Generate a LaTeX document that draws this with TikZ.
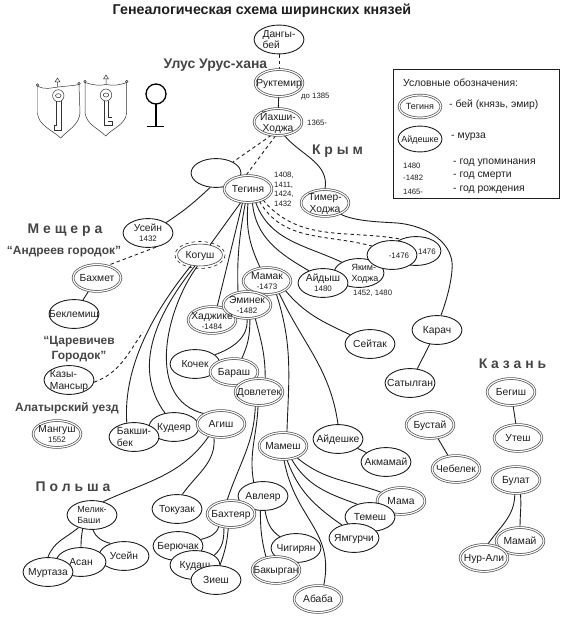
\documentclass[tikz,border=0pt]{standalone}
\usepackage{fontspec}
\setmainfont{Liberation Sans}
\usetikzlibrary{backgrounds, shapes.geometric}
\definecolor{inkgray}{HTML}{1E1E1E}
\definecolor{regiongray}{HTML}{454545}
\newcommand{\nm}[2][c]{\raisebox{-.35em}[0pt][0pt]{\makebox[0pt]{\begin{tabular}{@{}#1@{}}#2\end{tabular}}}}
\newcommand{\yr}[1]{{\fontsize{8}{9}\selectfont #1}}
\newcommand{\nmy}[2]{\nm{#1\\[-1.5pt]\yr{#2}}}

\begin{document}
\begin{tikzpicture}[
    x=1bp, y=-1bp,
    font=\fontsize{10.3}{11.8}\selectfont, text=inkgray,
    murza/.style={ellipse, draw=inkgray, line width=.9pt, fill=white,
                  minimum width=50, minimum height=29, inner sep=0pt},
    bey/.style={ellipse, draw=black!65, double=white, double distance=1.1pt, line width=.75pt,
                fill=white, minimum width=48, minimum height=27, inner sep=0pt},
    link/.style={line width=.9pt, draw=inkgray},
    dlink/.style={link, dash pattern=on 3.5pt off 3pt},
    region/.style={font=\bfseries\fontsize{14}{15}\selectfont, text=regiongray, align=center, inner sep=0pt},
    subregion/.style={region, font=\bfseries\fontsize{12}{15}\selectfont},
    yearlabel/.style={font=\fontsize{7.8}{9.6}\selectfont, anchor=west, align=left, inner sep=0pt},
    keytext/.style={font=\fontsize{10.4}{12}\selectfont, anchor=west, inner sep=0pt},
    sign/.style={line width=.5pt, draw=black!80}
  ]
    \useasboundingbox (0,0) rectangle (567,624);

    \node[font=\bfseries\fontsize{14.3}{17}\selectfont, inner sep=0pt] (title) at (262,10.5) {Генеалогическая схема ширинских князей};
    \node[region] (urus)   at (215.5,65) {Улус Урус-хана};
    \node[region] (krym)   at (337.5,151) {К р ы м};
    \node[region] (mesh)   at (65,230) {М е щ е р а};
    \node[subregion] (andr)  at (64,252) {“Андреев городок”};
    \node[subregion] (tsar)  at (79,349) {“Царевичев\\Городок”};
    \node[subregion] (alat)  at (67,408) {Алатырский уезд};
    \node[region] (polsha) at (73,487) {П о л ь ш а};
    \node[region] (kazan)  at (512.5,364) {К а з а н ь};

    % Ulus and Crimea
    \node[murza] (dangy)   at (279,39.5) {\nm[l]{Дангы-\\бей}};
    \node[bey]   (rukt)    at (279,83) {\nm{Руктемир}};
    \node[bey]   (yahshi)  at (278,122) {\nm{Йахши-\\Ходжа}};
    \node[murza] (blank)   at (216,173) {};
    \node[bey]   (teginya) at (248,189) {\nm{Тегиня}};
    \node[bey]   (timer)   at (325,203) {\nm{Тимер-\\Ходжа}};
    \node[murza] (usein)   at (148,233) {\nmy{Усейн}{1432}};
    \node[murza, draw=black!75, line width=.6pt, minimum width=45, minimum height=22] (kogush) at (200,255) {\nm{Когуш}};
    \node[bey]   (bahmet)  at (97,278) {\nm{Бахмет}};
    \node[murza] (beklem)  at (74,314) {\nm{Беклемиш}};
    \node[murza] (kazy)    at (69,380) {\nm[l]{Казы-\\Мансыр}};
    \node[bey]   (mangush) at (57,434) {\nmy{Мангуш}{1552}};

    \node[bey]   (mamak)   at (267,281) {\nmy{Мамак}{-1473}};
    \node[bey]   (hadjike) at (212,320) {};
    \node[bey]   (eminek)  at (247,305) {\nmy{Эминек}{-1482}};
    \node[inner sep=0pt] (hadjikename) at (212,321) {\nmy{Хаджике}{-1484}};
    \node[murza] (kochek)  at (195,364) {\nm{Кочек}};
    \node[bey]   (barash)  at (234,372) {\nm{Бараш}};
    \node[bey]   (dovlet)  at (259,392) {\nm{Довлетек}};
    \node[murza] (kudeyar) at (174,427) {\nm{Кудеяр}};
    \node[murza] (bakshi)  at (134,437) {\nm[l]{Бакши-\\бек}};
    \node[bey]   (agish)   at (221,424) {\nm{Агиш}};

    \node[murza] (bulat1)  at (416,251) {\hspace*{22pt}\nm{\yr{1476}}};
    \node[murza, font=\fontsize{9}{10.8}\selectfont] (yakim) at (359,273) {\hspace*{12pt}\nm[l]{Яким-\\Ходжа}};
    \node[murza] (bulat2)  at (392,255) {\hspace*{14pt}\nm{\yr{-1476}}};
    \node[murza] (aidysh)  at (323,283) {\nmy{Айдыш}{1480}};
    \node[murza] (seitak)  at (370,344) {\nm{Сейтак}};
    \node[murza] (karach)  at (437,330) {\nm{Карач}};
    \node[murza] (satyl)   at (410,383) {\nm{Сатылган}};

    \node[bey]   (bustai)  at (430,425) {\nm{Бустай}};
    \node[bey]   (chebel)  at (456,469) {\nm{Чебелек}};
    \node[bey]   (begish)  at (511,392) {\nm{Бегиш}};
    \node[bey]   (utesh)   at (518,438) {\nm{Утеш}};
    \node[bey]   (bulat)   at (516,480) {\nm{Булат}};
    \node[bey]   (mamai)   at (520,541) {\nm{Мамай}};
    \node[bey]   (nurali)  at (484,558) {\nm{Нур-Али}};

    \node[bey]   (mamesh)  at (283,446) {\nm{Мамеш}};
    \node[murza] (aideshke) at (338,439) {\nm{Айдешке}};
    \node[murza] (akmamai) at (386,462) {\nm{Акмамай}};
    \node[bey]   (mama)    at (401,501) {\nm{Мама}};
    \node[murza] (temesh)  at (370,517) {\nm{Темеш}};
    \node[murza] (yamgur)  at (354,538) {\nm{Ямгурчи}};
    \node[bey]   (ababa)   at (318,599) {\nm{Абаба}};

    \node[murza] (avleyar) at (263,496) {\nm{Авлеяр}};
    \node[bey]   (bahteyar) at (231,514) {\nm{Бахтеяр}};
    \node[murza] (chigir)  at (296,548) {\nm{Чигирян}};
    \node[bey]   (bakyr)   at (276,570) {\nm{Бакырган}};
    \node[murza] (tokuzak) at (177,509) {\nm{Токузак}};
    \node[murza] (beryuch) at (178,546) {\nm{Берючак}};
    \node[murza] (kudash)  at (195,565) {\nm{Кудаш}};
    \node[murza] (ziesh)   at (216,580) {\nm{Зиеш}};

    \node[murza, font=\fontsize{9}{11.5}\selectfont] (melik) at (92,515) {\nm[l]{Мелик-\\Баши}};
    \node[murza] (usein2)  at (124,556) {\nm{Усейн}};
    \node[murza] (asan)    at (81,562) {\nm{Асан}};
    \node[murza] (murtaza) at (48,572) {\nm{Муртаза}};

    \draw[dlink, line width=.6pt] (kogush.center) ellipse (25 and 13.5);
    \coordinate (kazyend) at (143,332);

    \begin{scope}[on background layer]
      \draw[dlink] (dangy) -- (rukt);
      \draw[link]  (rukt) -- (yahshi);
      \draw[dlink] (yahshi.-117) -- (blank.33);
      \draw[dlink] (yahshi.-100) -- (teginya.98);
      \draw[link]  (yahshi.-65) to[out=-50, in=80] (timer.90);
      \draw[link]  (blank.-112) to[out=-137, in=33] (usein.30);
      \draw[dlink] (usein.-60) -- (bahmet.50);
      \draw[link]  (bahmet) -- (beklem);
      \draw[dlink] (kazy.-5) to[out=20, in=-125] (kazyend);

      \draw[link]  (teginya.-118) -- (kogush.45);
      \draw[link]  (teginya.-112) -- (hadjike.69);
      \draw[link]  (teginya.-101) to[out=-100, in=92] (eminek.125);
      \draw[link]  (teginya.-90) to[out=-95, in=115] (mamak.117);
      \draw[link]  (teginya.-72) to[out=-85, in=150] (aidysh.139);
      \draw[link]  (teginya.-60) to[out=-70, in=155] (yakim.148);
      \draw[dlink] (teginya.-47) to[out=-60, in=165] (bulat2.156);
      \draw[dlink] (teginya.-36) to[out=-50, in=170] (bulat1.142);
      \draw[link]  (timer.-36) .. controls (355,222) and (385,222) .. (397,223)
                   .. controls (430,226) and (455,245) .. (452,270)
                   .. controls (451,285) and (445,305) .. (karach.75);
      \draw[link]  (karach) -- (satyl);

      \draw[link]  (kogush.-130) .. controls (155,310) and (123,365) .. (bakshi.117);
      \draw[link]  (kogush.-115) .. controls (160,310) and (130,365) .. (kudeyar.123);
      \draw[link]  (kogush.-103) .. controls (165,310) and (145,400) .. (agish.148);

      \draw[link]  (mamak.-54) to[out=-72, in=88] (mamesh.74);
      \draw[link]  (mamak.-45) to[out=-65, in=98] (aideshke.90);
      \draw[link]  (mamak.-27) to[out=-50, in=155] (seitak.155);
      \draw[link]  (eminek.-90) to[out=-85, in=20] (kochek.25);
      \draw[link]  (eminek.-78) to[out=-90, in=65] (barash.60);
      \draw[link]  (eminek.-58) to[out=-75, in=90] (dovlet.65);
      \draw[link]  (dovlet.-105) to[out=-92, in=72] (bahteyar.106);
      \draw[link]  (dovlet.-94) to[out=-92, in=100] (avleyar.124);

      \draw[link]  (agish.-135) to[out=-125, in=25] (melik.50);
      \draw[link]  (agish.-118) to[out=-85, in=55] (tokuzak.70);
      \draw[link]  (melik.-137) to[out=-140, in=70] (murtaza.90);
      \draw[link]  (melik.-124) to[out=-100, in=90] (asan.90);
      \draw[link]  (melik.-86) to[out=-70, in=165] (usein2.137);

      \draw[link]  (mamesh.-40) to[out=-40, in=160] (mama.156);
      \draw[link]  (mamesh.-57) to[out=-60, in=160] (temesh.135);
      \draw[link]  (mamesh.-74) to[out=-70, in=145] (yamgur.133);
      \draw[link]  (mamesh.-86) .. controls (295,520) and (335,530) .. (ababa.67);
      \draw[link]  (aideshke) -- (akmamai);

      \draw[link]  (avleyar.-82) to[out=-80, in=145] (chigir.145);
      \draw[link]  (avleyar.-100) to[out=-90, in=105] (bakyr.128);
      \draw[link]  (bahteyar.-135) to[out=-105, in=15] (beryuch.16);
      \draw[link]  (bahteyar.-118) to[out=-90, in=40] (kudash.27);
      \draw[link]  (bahteyar.-101) to[out=-95, in=70] (ziesh.75);

      \draw[link]  (bustai) -- (chebel);
      \draw[link]  (begish) -- (utesh);
      \draw[link]  (bulat.-95) to[out=-90, in=55] (nurali.75);
      \draw[link]  (bulat.-72) to[out=-85, in=90] (mamai.90);
    \end{scope}

    \node[yearlabel] (ruktyear)   at (301,97) {до 1385};
    \node[yearlabel] (yahshiyear) at (307,123) {1365-};
    \node[yearlabel] (tegyears)   at (274,189.5) {1408,\\1411,\\1424,\\1432};
    \node[yearlabel] (yakimyear)  at (353,293) {1452, 1480};

    % legend
    \node[draw=inkgray, line width=1pt, minimum width=166, minimum height=129, inner sep=0pt] (legend) at (476.5,134) {};
    \node[keytext] (keyhead)  at (403,83) {Условные обозначения:};
    \node[bey, font=\fontsize{9}{11}\selectfont, minimum width=42, minimum height=23] (keybey) at (420,106.5) {\nm{Тегиня}};
    \node[murza, font=\fontsize{9}{11}\selectfont, minimum width=44, minimum height=26] (keymurza) at (420,139) {\nm{Айдешке}};
    \node[keytext] (keybeytxt)   at (449,105) {- бей (князь, эмир)};
    \node[keytext] (keymurzatxt) at (451,137) {- мурза};
    \node[yearlabel] (key1480) at (403,166) {1480};
    \node[yearlabel] (key1482) at (403,178) {-1482};
    \node[yearlabel] (key1465) at (403,191.5) {1465-};
    \node[keytext] (keymention) at (453,163) {- год упоминания};
    \node[keytext] (keydeath)   at (453,176) {- год смерти};
    \node[keytext] (keybirth)   at (453,190) {- год рождения};

    % seals
    \draw[sign] (37.5,86) .. controls (45,90) and (50,88) .. (58.5,87) .. controls (66,86) and (72,86) .. (79,84.5)
      -- (80,113) .. controls (79,125) and (68,130) .. (60.7,138) .. controls (52,130) and (38,125) .. (37.5,113) -- cycle;
    \draw[sign] (37.5,85) circle (1.2) (79,83.5) circle (1.2);
    \draw[sign] (57.5,87) -- (57.5,82) (55,82) -- (57.5,78) -- (60,82) -- cycle;
    \draw[sign] (58.3,95.7) ellipse (5.7 and 6);
    \draw[sign] (58.3,95.7) ellipse (2.8 and 2);
    \draw[sign] (56,101.5) -- (56,125) -- (54,125) -- (54,130) -- (61,130) -- (61,101.5);
    \draw[sign] (85,82.5) .. controls (92,85) and (100,86) .. (106,84.5) .. controls (113,86) and (120,85) .. (126.7,82.5)
      -- (126.7,113) .. controls (125,125) and (113,128) .. (105.7,136) .. controls (98,128) and (87,125) .. (85,113) -- cycle;
    \draw[sign] (85,81.5) circle (1.2) (126.7,81.5) circle (1.2);
    \draw[sign] (106,84) -- (106,79) (103.5,79) -- (106,75) -- (108.5,79) -- cycle;
    \draw[sign] (106,95) ellipse (5.7 and 6);
    \draw[sign] (106,95) ellipse (2.8 and 2);
    \draw[sign] (104,101) -- (104,125.5) -- (108.3,125.5) -- (112,125.5) -- (112,121.5) -- (108.3,121.5)
      (112,117) -- (108.3,117) -- (108.3,101);
    \draw[line width=1.3pt] (156,94) circle (10);
    \draw[line width=1.3pt] (156,104) -- (156,126.7) (146.7,126.7) -- (164.3,126.7);
\end{tikzpicture}
\end{document}
